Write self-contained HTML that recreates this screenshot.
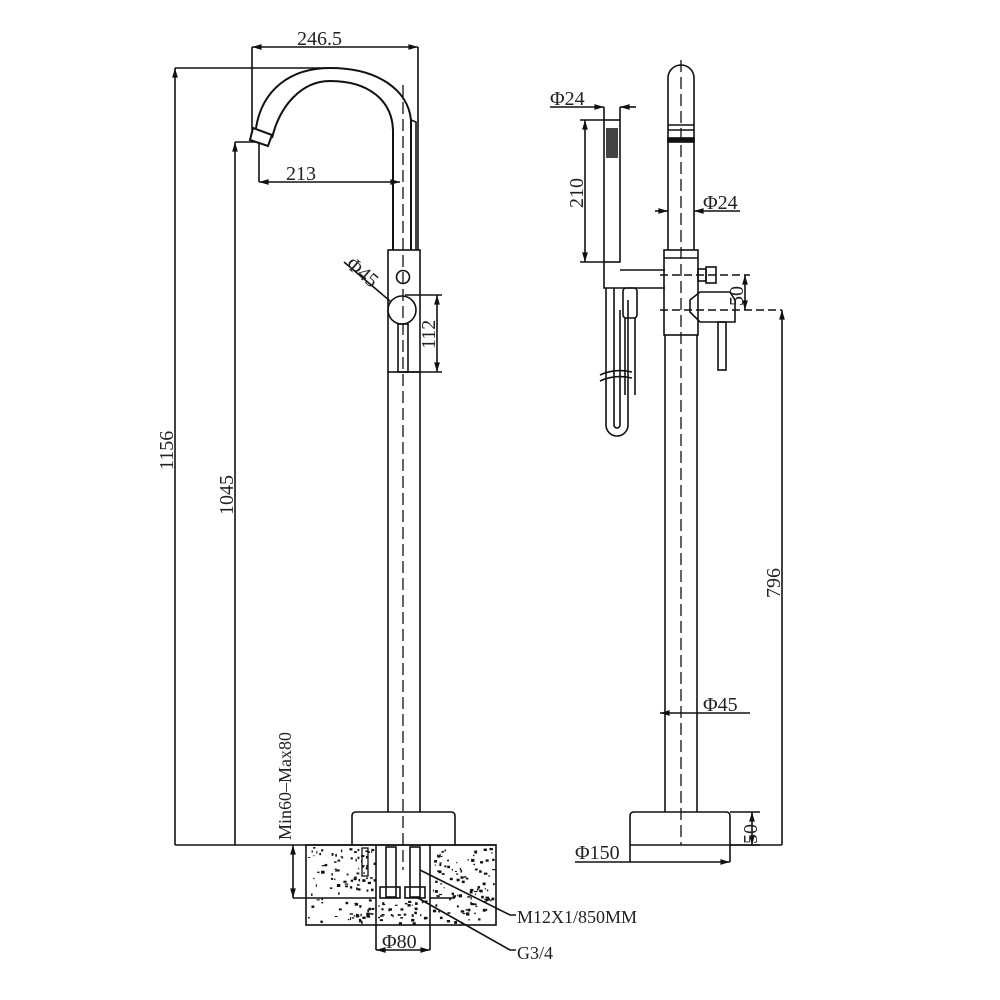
<!DOCTYPE html>
<html><head><meta charset="utf-8"><style>
html,body{margin:0;padding:0;background:#fff;width:1000px;height:1000px;overflow:hidden}
svg{display:block}
text{font-family:"Liberation Serif",serif;font-size:20px;fill:#222}
</style></head><body>
<svg id="s" width="1000" height="1000" viewBox="0 0 1000 1000" xmlns="http://www.w3.org/2000/svg">
<defs>
<marker id="a" viewBox="0 0 10 10" refX="10" refY="5" markerWidth="8" markerHeight="6" orient="auto-start-reverse"><path d="M0,2 L10,5 L0,8z" fill="#111"/></marker>
</defs>
<g fill="none" stroke="#111" stroke-width="1.6">
<path d="M256,128 C262,90 290,68 330,68 C378,68 408,90 411,120 L411,250" stroke-width="2"/>
<path d="M272,138 C280,105 302,81 330,81 C368,81 393,100 393,132 L393,250" stroke-width="2"/>
<path d="M411,120 L416,122 L416,250"/>
<path d="M253,128 L272,135 L268,146 L250,140z" stroke-width="2"/>
<rect x="388" y="250" width="32" height="122"/>
<circle cx="403" cy="277" r="6.5"/>
<circle cx="402" cy="310" r="14"/>
<rect x="398" y="324" width="10" height="48"/>
<line x1="388" y1="372" x2="388" y2="812"/><line x1="420" y1="372" x2="420" y2="812"/>
<path d="M352,845 L352,816 Q352,812 356,812 L451,812 Q455,812 455,816 L455,845"/>
<line x1="403" y1="85" x2="403" y2="870" stroke-dasharray="12,5" stroke-width="1.3"/>
<rect x="306" y="845" width="190" height="80"/>
<line x1="376" y1="845" x2="376" y2="950"/><line x1="430" y1="845" x2="430" y2="950"/>
<line x1="293" y1="898" x2="376" y2="898"/><line x1="430" y1="898" x2="455" y2="898"/>
<rect x="386" y="847" width="10" height="50"/><rect x="410" y="847" width="10" height="50"/>
<rect x="380" y="887" width="20" height="11"/><rect x="405" y="887" width="20" height="11"/>
<rect x="362" y="848" width="6" height="28" stroke-width="1.3"/>
<line x1="175" y1="845" x2="496" y2="845"/>
<line x1="175" y1="68" x2="330" y2="68"/>
<line x1="175" y1="845" x2="175" y2="68" marker-end="url(#a)"/>
<line x1="235" y1="142" x2="255" y2="142"/>
<line x1="235" y1="845" x2="235" y2="142" marker-end="url(#a)"/>
<line x1="252" y1="47" x2="418" y2="47" marker-start="url(#a)" marker-end="url(#a)"/>
<line x1="252" y1="47" x2="252" y2="130"/><line x1="418" y1="47" x2="418" y2="250"/>
<line x1="259" y1="182" x2="400" y2="182" marker-start="url(#a)" marker-end="url(#a)"/>
<line x1="259" y1="142" x2="259" y2="182"/>
<line x1="344" y1="262" x2="390" y2="301"/>
<line x1="405" y1="295" x2="442" y2="295"/><line x1="405" y1="372" x2="442" y2="372"/>
<line x1="437" y1="295" x2="437" y2="372" marker-start="url(#a)" marker-end="url(#a)"/>
<line x1="293" y1="845" x2="293" y2="898" marker-start="url(#a)" marker-end="url(#a)"/>
<line x1="376" y1="950" x2="430" y2="950" marker-start="url(#a)" marker-end="url(#a)"/>
<polyline points="420,870 510,915 516,915"/>
<polyline points="418,898 510,950 516,950"/>
<path d="M668,250 L668,78 A13,13 0 0 1 694,78 L694,250"/>
<line x1="668" y1="125" x2="694" y2="125"/><line x1="668" y1="130" x2="694" y2="130"/>
<rect x="668" y="138" width="26" height="4" fill="#111"/>
<rect x="664" y="250" width="34" height="85"/>
<line x1="664" y1="258" x2="698" y2="258"/>
<line x1="665" y1="335" x2="665" y2="812"/><line x1="697" y1="335" x2="697" y2="812"/>
<line x1="681" y1="60" x2="681" y2="845" stroke-dasharray="12,5" stroke-width="1.3"/>
<rect x="604" y="120" width="16" height="142"/>
<path d="M604,262 L604,288 L665,288 M620,270 L665,270"/>
<path d="M606,288 L606,425 A11,11 0 0 0 628,425 L628,300"/>
<path d="M614,288 L614,425 A3,3 0 0 0 620,425 L620,310"/>
<rect x="623" y="288" width="14" height="30" rx="3"/>
<line x1="625" y1="318" x2="625" y2="395"/><line x1="635" y1="318" x2="635" y2="395"/>
<path d="M600,375 Q615,368 632,372 M600,381 Q615,374 632,378"/>
<rect x="698" y="269" width="8" height="12"/><rect x="706" y="267" width="10" height="16"/>
<path d="M690,300 L700,292 L730,292 L735,300 L735,322 L700,322 L690,312z"/>
<rect x="718" y="322" width="8" height="48"/>
<line x1="660" y1="310" x2="782" y2="310" stroke-dasharray="8,4"/>
<line x1="660" y1="275" x2="750" y2="275" stroke-dasharray="8,4"/>
<path d="M630,845 L630,816 Q630,812 634,812 L726,812 Q730,812 730,816 L730,845z"/>
<line x1="550" y1="107" x2="604" y2="107" marker-end="url(#a)"/>
<line x1="636" y1="107" x2="620" y2="107" marker-end="url(#a)"/>
<line x1="604" y1="107" x2="604" y2="120"/><line x1="620" y1="107" x2="620" y2="120"/>
<line x1="580" y1="120" x2="604" y2="120"/><line x1="580" y1="262" x2="604" y2="262"/>
<line x1="585" y1="120" x2="585" y2="262" marker-start="url(#a)" marker-end="url(#a)"/>
<line x1="655" y1="211" x2="668" y2="211" marker-end="url(#a)"/>
<line x1="740" y1="211" x2="694" y2="211" marker-end="url(#a)"/>
<line x1="745" y1="275" x2="745" y2="310" marker-start="url(#a)" marker-end="url(#a)"/>
<line x1="782" y1="845" x2="782" y2="310" marker-end="url(#a)"/>
<line x1="730" y1="845" x2="782" y2="845"/>
<line x1="660" y1="713" x2="750" y2="713" marker-start="url(#a)"/>
<line x1="730" y1="812" x2="760" y2="812"/><line x1="730" y1="845" x2="760" y2="845"/>
<line x1="752" y1="812" x2="752" y2="845" marker-start="url(#a)" marker-end="url(#a)"/>
<line x1="630" y1="845" x2="630" y2="862"/><line x1="730" y1="845" x2="730" y2="862"/>
<line x1="575" y1="862" x2="730" y2="862" marker-end="url(#a)"/>
</g>
<g id="dots" fill="#111"></g>
<rect x="606" y="128" width="12" height="30" fill="#444"/>
<text x="297" y="45">246.5</text>
<text x="286" y="180">213</text>
<text x="0" y="0" transform="translate(173,470) rotate(-90)">1156</text>
<text x="0" y="0" transform="translate(233,515) rotate(-90)">1045</text>
<text x="0" y="0" transform="translate(345,266) rotate(40)">Φ45</text>
<text x="0" y="0" transform="translate(435,349) rotate(-90)">112</text>
<text x="0" y="0" transform="translate(291,840) rotate(-90)" style="font-size:18px">Min60–Max80</text>
<text x="382" y="948">Φ80</text>
<text x="517" y="923" style="font-size:18px">M12X1/850MM</text>
<text x="517" y="959" style="font-size:18px">G3/4</text>
<text x="550" y="105">Φ24</text>
<text x="0" y="0" transform="translate(583,208) rotate(-90)">210</text>
<text x="703" y="209">Φ24</text>
<text x="0" y="0" transform="translate(743,306) rotate(-90)">50</text>
<text x="0" y="0" transform="translate(780,598) rotate(-90)">796</text>
<text x="703" y="711">Φ45</text>
<text x="0" y="0" transform="translate(757,844) rotate(-90)">50</text>
<text x="575" y="859">Φ150</text>
</svg>
<script>
var g=document.getElementById('dots'),s=7,h='';
function r(){s=(s*16807)%2147483647;return s/2147483647;}
function fill(x0,y0,x1,y1,n){for(var i=0;i<n;i++){var x=x0+r()*(x1-x0),y=y0+r()*(y1-y0),w=1+r()*2.5;h+='<rect x="'+x.toFixed(1)+'" y="'+y.toFixed(1)+'" width="'+w.toFixed(1)+'" height="'+(1+r()*2).toFixed(1)+'"/>';}}
fill(308,847,374,923,110);fill(432,847,494,923,110);fill(378,900,428,923,35);
g.innerHTML=h;
</script>
</body></html>
